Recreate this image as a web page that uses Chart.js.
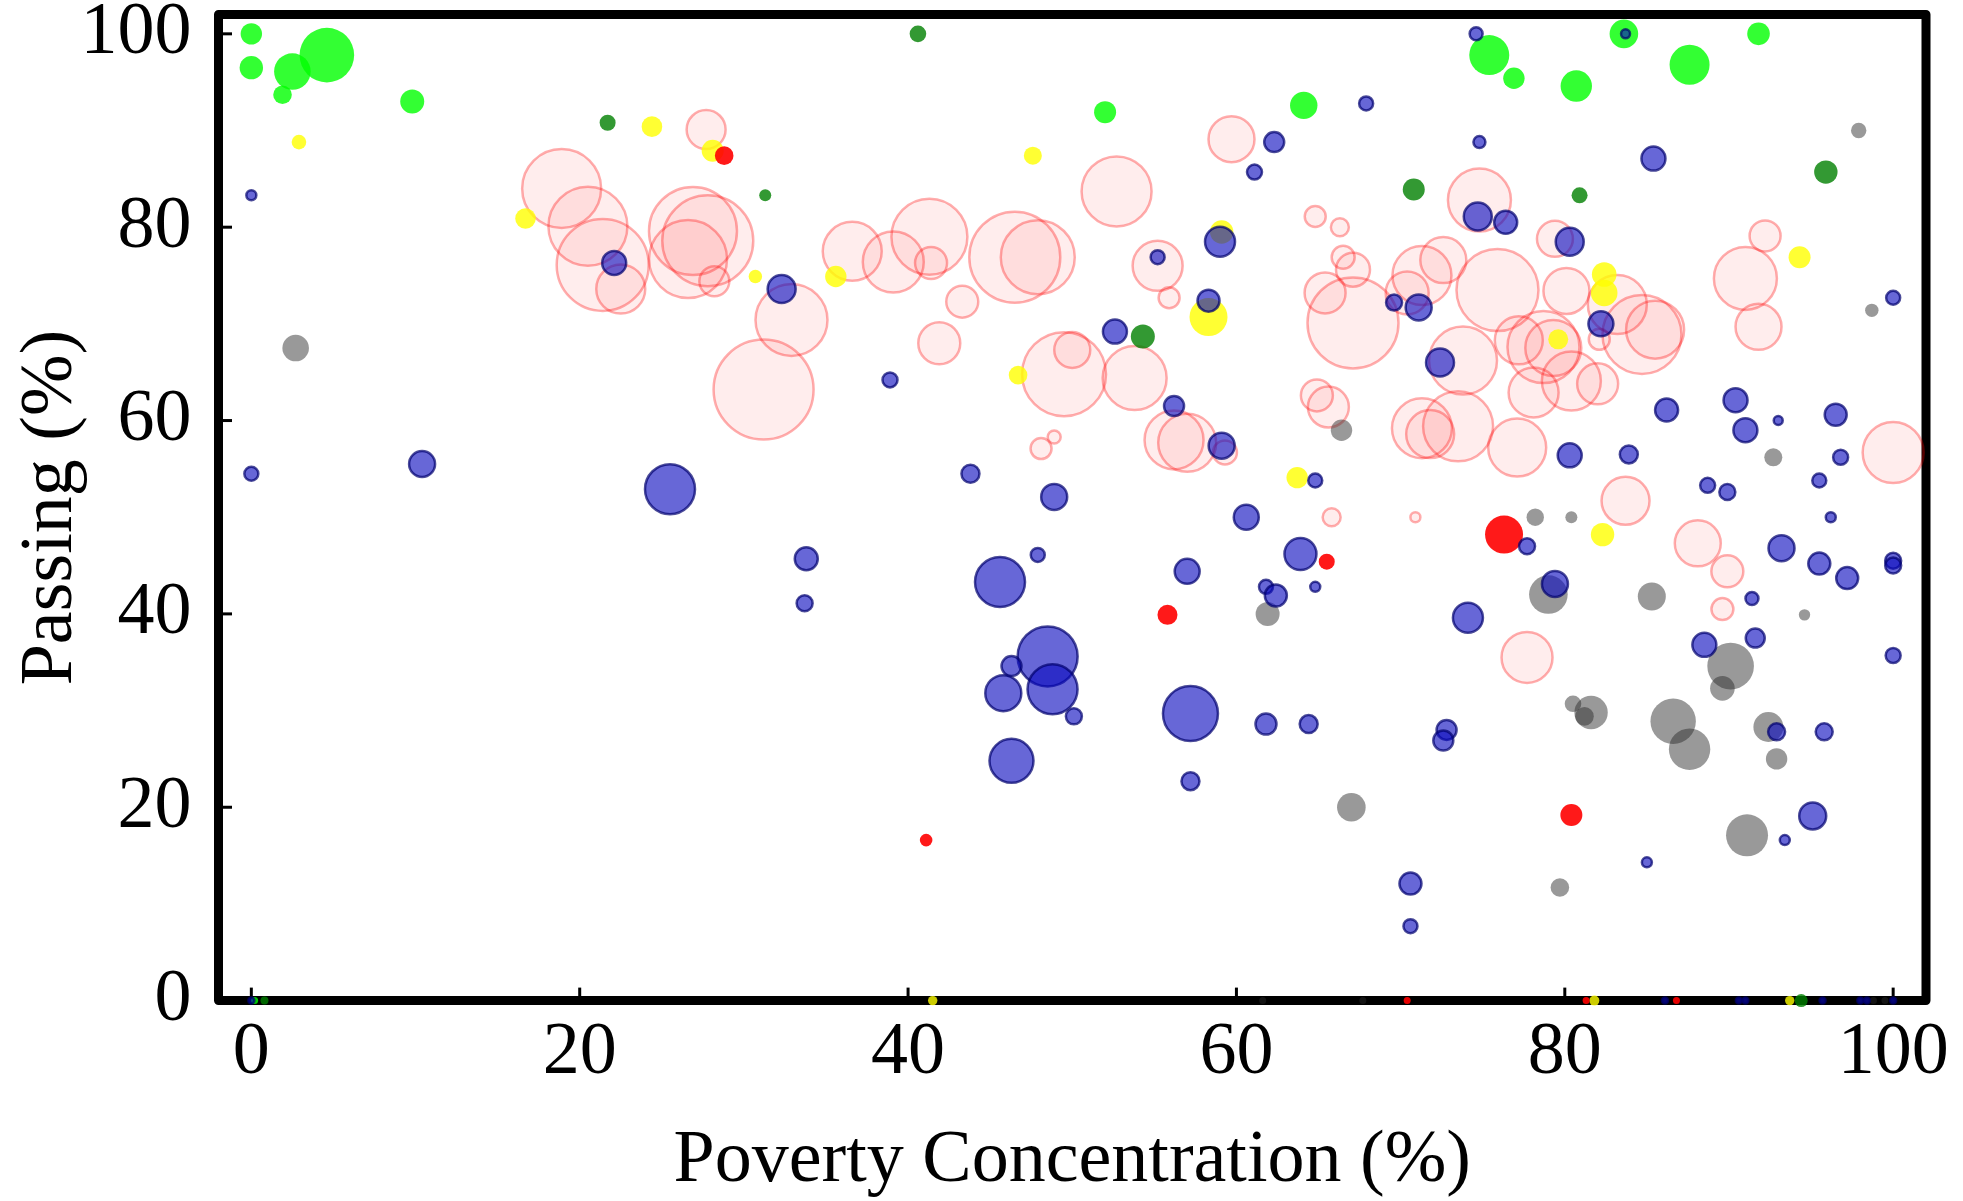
<!DOCTYPE html>
<html lang="en">
<head>
<meta charset="UTF-8">
<title>Passing vs Poverty Concentration</title>
<script src="https://cdn.jsdelivr.net/npm/chart.js"></script>
<style>
  html, body { margin: 0; padding: 0; background: #fff; }
  .wrap { width: 1963px; height: 1201px; position: relative; }
</style>
</head>
<body>
<div class="wrap"><canvas id="bubbleChart"></canvas></div>

<script>
// each point: [poverty %, passing %, bubble radius]
const blueSchools = [
  [0,83.3,5],[0,54.5,7],[10.4,55.5,13],[25.5,52.9,25],[22.1,76.3,12],[32.3,73.6,14],[38.9,64.2,7.5],
  [43.8,54.5,9],[48.9,52.1,13],[52.6,69.2,12],[55.2,76.9,7],[56.2,61.5,10],[33.8,45.7,11.5],[33.7,41.1,8],
  [45.6,43.3,25],[47.9,46.1,7],[57.0,44.4,12.5],[48.5,35.6,30],[46.3,34.6,10],[45.8,31.8,18],[48.8,32.2,25],
  [50.1,29.4,8],[57.2,29.7,27.5],[46.3,24.8,22],[57.2,22.7,9],
  [74.6,100,6.5],[83.7,100,4.5],[67.9,92.8,7],[62.3,88.8,10],[74.8,88.8,6],[61.1,85.7,7.5],[85.4,87.1,12],
  [74.7,81.1,14],[76.4,80.5,11.5],[80.3,78.5,14],[59.0,78.5,15],[58.3,72.4,11],[69.6,72.2,8],[71.1,71.7,13],
  [82.2,70.0,12.5],[72.4,66.0,14],[59.1,57.4,13],[64.8,53.8,7],[86.2,61.1,11.5],[80.3,56.4,12],[83.9,56.5,9],
  [60.6,50.0,12.5],[77.7,47.0,8],[63.9,46.2,16],[61.8,42.8,7],[62.4,41.9,11],[64.8,42.8,5],[74.1,39.6,15],
  [79.4,43.1,13],[61.8,28.6,10.5],[64.4,28.6,9],[72.8,28.0,10],[72.6,26.9,10],[85.0,14.3,5],[70.6,12.1,11],
  [70.6,7.7,7],
  [100,72.7,7],[90.4,62.1,12],[91.0,59.0,12],[93.0,60.0,4.5],[96.5,60.6,11],[96.8,56.2,7.5],[95.5,53.8,7],
  [88.7,53.3,7.5],[89.9,52.6,8],[96.2,50.0,5],[91.4,41.6,6.5],[93.2,46.8,13],[95.5,45.2,11],[97.2,43.7,11],
  [100,45.5,8],[100,45.0,8],[100,35.7,7.5],[88.5,36.8,12],[91.6,37.5,9.5],[92.9,27.8,8.5],[95.8,27.8,8.5],
  [95.1,19.1,13.5],[93.4,16.6,5],
  [0,0,3],[86.1,0,3],[90.6,0,3],[91.0,0,3],[95.7,0,3],[98.0,0,3],[98.4,0,3],[100,0,3]
];

const darkGreenSchools = [
  [21.7,90.8,8],[40.6,100,8.3],[31.3,83.3,6],[54.3,68.7,12],[70.8,83.9,11],[80.9,83.3,8],
  [95.9,85.7,11.7],[0.8,0,4],[94.4,0,6.5]
];

const greenSchools = [
  [0,100,10.7],[0,96.5,11.7],[2.5,96.1,18.3],[4.6,97.8,27.3],[1.9,93.7,9.3],[9.8,93.0,12],
  [52.0,91.9,11],[64.1,92.6,13.7],[75.4,97.8,20],[76.9,95.4,10.7],[80.7,94.6,15.7],[83.6,100,14.3],
  [87.6,96.8,20],[91.8,100,11.3],[0.2,0,3.5]
];

const redSchools = [
  [28.8,87.4,9.3],[41.1,16.6,6.3],[55.8,39.9,10],[65.5,45.4,8],[76.3,48.2,19],[80.4,19.2,11],
  [70.4,0,3.5],[81.3,0,3.5],[86.8,0,3.5]
];

const yellowSchools = [
  [24.4,90.4,10.3],[2.9,88.8,7.3],[16.7,80.9,10.3],[28.1,87.9,11],[47.6,87.4,9],[30.7,74.9,6.7],
  [35.6,74.9,10.7],[46.7,64.7,9.3],[59.1,79.5,11.7],[58.3,70.7,19],[82.4,75.1,12.3],[82.4,73.2,13.3],
  [79.6,68.4,10],[63.7,54.1,10.7],[82.3,48.2,11.7],[94.3,76.9,11],[41.5,0,4.7],[81.8,0,5],[93.7,0,4.7]
];

const graySchools = [
  [2.7,67.5,13.3],[66.4,59.0,10.7],[61.9,40.0,12],[78.2,50.0,8.7],[80.4,50.0,6],[79.0,42.0,19.3],
  [85.3,41.8,14],[80.5,30.7,8.3],[81.6,29.8,16.7],[81.2,29.4,9.3],[86.6,28.9,22.7],[87.6,26.0,20.7],
  [67.0,20.0,14.3],[79.7,11.7,9.3],[97.9,90.0,7.7],[98.7,71.4,6.7],[92.7,56.2,9],[94.6,39.9,5.7],
  [90.1,34.6,23.3],[89.6,32.3,12.3],[92.4,28.3,15],[92.9,25.0,10.7],[91.1,17.1,21],
  [61.6,0,3.5],[67.7,0,3.5],[98.8,0,3.5],[99.5,0,3.5]
];

const pinkSchools = [
  [18.9,84.0,39.5],[20.5,80.1,39.5],[21.4,76.1,46],[22.5,73.6,24.5],[27.7,90.1,19.5],[26.9,79.6,44],
  [27.8,78.6,45.5],[26.6,76.7,39],[28.2,74.4,15],[36.6,77.5,29.5],[39.1,76.4,30.5],[41.3,79.0,38],
  [41.4,76.3,16],[43.3,72.3,16],[46.5,76.9,45.5],[47.9,76.9,37],[41.9,68.0,21],[32.9,70.4,36],
  [31.2,63.2,50],[49.5,64.8,42],[50.0,67.3,18],[53.8,64.4,32],[52.7,83.7,35],[55.2,76.0,25],
  [55.9,72.7,10.5],[56.2,58.0,29.5],[57.0,57.7,29],[48.1,57.1,10.5],[48.9,58.3,6.5],
  [59.7,89.1,23],[74.8,82.8,31.5],[79.4,78.8,18],[64.8,81.1,10.5],[66.3,80.0,9],[66.5,76.9,11.5],
  [67.1,75.6,17],[65.4,73.2,20.5],[67.1,70.1,45.5],[71.3,75.0,29.5],[72.6,76.6,23],[70.4,73.2,21.5],
  [75.9,73.5,41],[80.1,73.4,23],[83.2,72.0,29.5],[82.1,68.4,10.5],[84.7,68.9,39.5],[85.5,69.4,29],
  [77.2,68.3,24],[78.7,67.6,36],[79.3,67.5,28],[80.4,64.1,29.5],[82.0,63.8,20.5],[78.1,62.9,25],
  [73.8,66.2,34],[71.3,59.2,30],[71.8,58.6,24],[73.5,59.4,35],[77.1,57.2,29],[64.9,62.6,16],
  [65.6,61.4,20.5],[59.3,56.7,12],[83.7,51.7,24],[65.8,50.0,9],[70.9,50.0,5],[77.7,35.5,25.5],
  [92.2,79.1,15.5],[91.0,74.7,31.5],[91.8,69.7,23],[100,56.7,30.5],[88.1,47.3,23],[89.9,44.4,16],
  [89.6,40.5,11]
];

const xTicks = [0, 20, 40, 60, 80, 100];
const yTicks = [0, 20, 40, 60, 80, 100];

const serif = "'Liberation Serif', 'DejaVu Serif', serif";

function toPoints(rows) {
  return rows.map(p => ({ x: p[0], y: p[1], r: p[2] }));
}

// frame, inward ticks and tick labels, drawn under the bubbles
const framePlugin = {
  id: 'frame',
  beforeDatasetsDraw(chart) {
    const ctx = chart.ctx;
    const a = chart.chartArea;
    const xs = chart.scales.x;
    const ys = chart.scales.y;
    ctx.save();
    ctx.strokeStyle = '#000';
    ctx.fillStyle = '#000';
    ctx.lineWidth = 3;
    ctx.font = '74px ' + serif;

    ctx.textAlign = 'right';
    ctx.textBaseline = 'middle';
    yTicks.forEach(v => {
      const py = ys.getPixelForValue(v);
      ctx.beginPath();
      ctx.moveTo(a.left, py);
      ctx.lineTo(a.left + 13.5, py);
      ctx.stroke();
      ctx.fillText(String(v), a.left - 27, py);
    });

    ctx.textAlign = 'center';
    xTicks.forEach(v => {
      const px = xs.getPixelForValue(v);
      ctx.beginPath();
      ctx.moveTo(px, a.bottom);
      ctx.lineTo(px, a.bottom - 13);
      ctx.stroke();
      ctx.fillText(String(v), px, a.bottom + 53);
    });

    ctx.lineWidth = 9;
    ctx.lineJoin = 'round';
    ctx.strokeRect(a.left, a.top, a.right - a.left, a.bottom - a.top);
    ctx.restore();
  }
};

new Chart(document.getElementById('bubbleChart'), {
  type: 'bubble',
  data: {
    datasets: [
      { label: 'blue', data: toPoints(blueSchools), backgroundColor: 'rgba(10,10,190,0.62)', borderColor: 'rgba(0,0,110,0.7)', borderWidth: 2.5 },
      { label: 'dark green', data: toPoints(darkGreenSchools), backgroundColor: 'rgba(0,128,0,0.8)', borderWidth: 0 },
      { label: 'green', data: toPoints(greenSchools), backgroundColor: 'rgba(0,255,0,0.8)', borderWidth: 0 },
      { label: 'red', data: toPoints(redSchools), backgroundColor: 'rgba(255,0,0,0.9)', borderWidth: 0 },
      { label: 'yellow', data: toPoints(yellowSchools), backgroundColor: 'rgba(255,255,0,0.8)', borderWidth: 0 },
      { label: 'gray', data: toPoints(graySchools), backgroundColor: 'rgba(42,42,42,0.48)', borderWidth: 0 },
      { label: 'pink', data: toPoints(pinkSchools), backgroundColor: 'rgba(255,0,0,0.07)', borderColor: 'rgba(255,0,0,0.32)', borderWidth: 2.5 }
    ]
  },
  options: {
    responsive: true,
    maintainAspectRatio: false,
    animation: false,
    events: [],
    clip: false,
    layout: { autoPadding: false, padding: { top: 14.5, right: 37, left: 0, bottom: 0 } },
    plugins: {
      legend: { display: false },
      tooltip: { enabled: false }
    },
    scales: {
      x: {
        type: 'linear',
        min: -2,
        max: 102,
        grid: { display: false, drawTicks: false },
        border: { display: false },
        afterBuildTicks: s => { s.ticks = xTicks.map(v => ({ value: v })); },
        afterFit: s => { s.height = 200.4; },
        ticks: { display: false },
        title: {
          display: true,
          text: 'Poverty Concentration (%)',
          color: '#000',
          padding: { top: 0, bottom: 2 },
          font: { family: serif, size: 74, lineHeight: 1 }
        }
      },
      y: {
        type: 'linear',
        min: 0,
        max: 102,
        grid: { display: false, drawTicks: false },
        border: { display: false },
        afterBuildTicks: s => { s.ticks = yTicks.map(v => ({ value: v })); },
        afterFit: s => { s.width = 218.5; },
        ticks: { display: false },
        title: {
          display: true,
          text: 'Passing (%)',
          color: '#000',
          padding: { top: 15, bottom: 0 },
          font: { family: serif, size: 74, lineHeight: 1 }
        }
      }
    }
  },
  plugins: [framePlugin]
});
</script>
</body>
</html>
